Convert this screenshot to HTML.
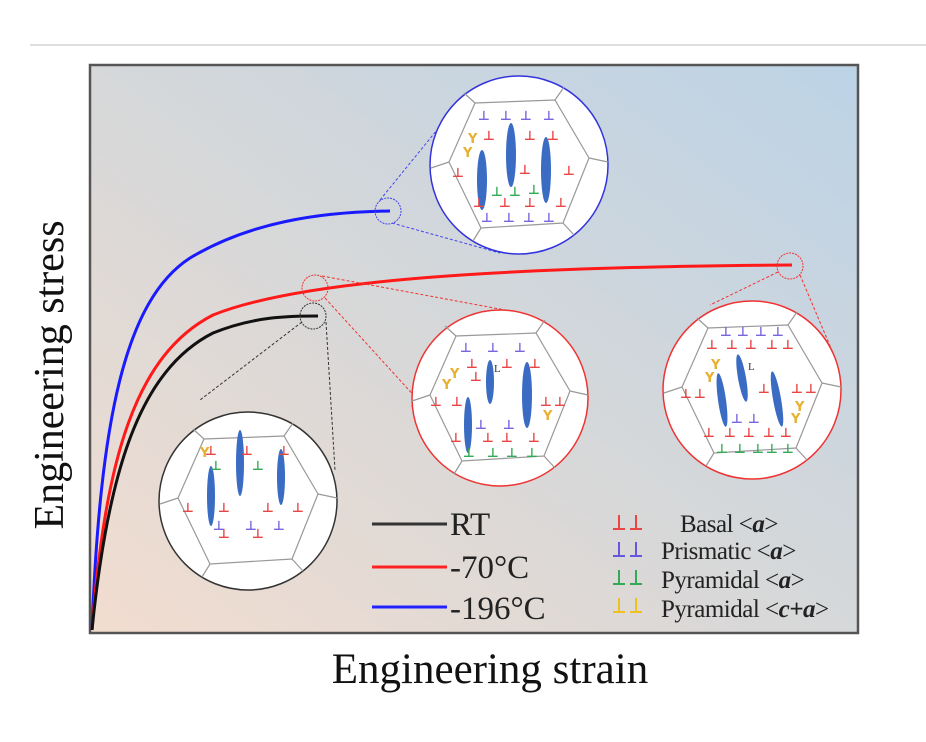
<!DOCTYPE html>
<html><head><meta charset="utf-8"><style>
html,body{margin:0;padding:0;background:#fff;}
svg{display:block;}
.t{font-family:"Liberation Serif",serif;}
.d{font-family:"DejaVu Sans",sans-serif;font-size:13px;font-weight:bold;}
</style></head><body>
<svg width="926" height="742" viewBox="0 0 926 742" xmlns="http://www.w3.org/2000/svg">
<defs>
<linearGradient id="bg" x1="0" y1="1" x2="1" y2="0">
<stop offset="0" stop-color="#f2ddd0"/>
<stop offset="0.45" stop-color="#d8d8d8"/>
<stop offset="1" stop-color="#bcd3e6"/>
</linearGradient>
<path id="perp" d="M-6,7 H6 M0,7 V-7" fill="none" stroke-width="2"/>
</defs>
<line x1="30" y1="45" x2="926" y2="45" stroke="#d4d4d4" stroke-width="1.5"/>
<rect x="90" y="65" width="768" height="568" fill="url(#bg)" stroke="#555" stroke-width="2.5"/>

<!-- curves -->
<path d="M92,630 C100,420 125,300 190,258 C250,222 320,212 390,211" fill="none" stroke="#1a1aff" stroke-width="3"/>
<path d="M92,630 C105,460 135,355 213,315 C300,280 500,267 792,265" fill="none" stroke="#ff1a1a" stroke-width="3"/>
<path d="M92,630 C108,470 140,370 213,333 C255,316 290,316 318,316" fill="none" stroke="#111" stroke-width="3"/>

<!-- small circles -->
<circle cx="388" cy="211" r="13" fill="none" stroke="#4444ee" stroke-width="1" stroke-dasharray="2,1"/>
<circle cx="315" cy="288" r="13" fill="none" stroke="#ee3333" stroke-width="1" stroke-dasharray="2,1"/>
<circle cx="313" cy="316" r="13" fill="none" stroke="#333" stroke-width="1" stroke-dasharray="2,1"/>
<circle cx="790" cy="266" r="13" fill="none" stroke="#ee3333" stroke-width="1" stroke-dasharray="2,1"/>

<!-- connectors -->
<g fill="none" stroke-width="1" stroke-dasharray="3,2">
<line x1="380" y1="200" x2="437" y2="130" stroke="#4444ee"/>
<line x1="392" y1="223" x2="500" y2="253" stroke="#4444ee"/>
<line x1="322" y1="276" x2="505" y2="310" stroke="#ee3333"/>
<line x1="325" y1="298" x2="418" y2="400" stroke="#ee3333"/>
<line x1="302" y1="322" x2="200" y2="400" stroke="#333"/>
<line x1="326" y1="322" x2="335" y2="470" stroke="#333"/>
<line x1="778" y1="272" x2="710" y2="305" stroke="#ee3333"/>
<line x1="800" y1="275" x2="836" y2="360" stroke="#ee3333"/>
</g>

<!-- big circles -->
<g>
<circle cx="519" cy="165" r="89" fill="#fff" stroke="#3333dd" stroke-width="1.5"/>
<circle cx="500" cy="398" r="88" fill="#fff" stroke="#ee3333" stroke-width="1.5"/>
<circle cx="752" cy="390" r="89" fill="#fff" stroke="#ee3333" stroke-width="1.5"/>
<circle cx="248" cy="501" r="89" fill="#fff" stroke="#333" stroke-width="1.5"/>
</g>
<!-- hexagons -->
<g fill="none" stroke="#999" stroke-width="1.2">
<g transform="translate(519,165)"><polygon points="-70,-3 -44,-62 36,-65 70,-7 44,58 -38,63"/><path d="M-70,-3 L-88,3 M-44,-62 L-55,-72 M36,-65 L45,-78 M70,-7 L89,-3 M44,58 L55,70 M-38,63 L-46,76"/></g>
<g transform="translate(500,398)"><polygon points="-70,-3 -44,-62 36,-65 70,-7 44,58 -38,63"/><path d="M-70,-3 L-88,3 M-44,-62 L-55,-72 M36,-65 L45,-78 M70,-7 L88,-3 M44,58 L55,70 M-38,63 L-46,76"/></g>
<g transform="translate(752,390)"><polygon points="-70,-3 -44,-62 36,-65 70,-7 44,58 -38,63"/><path d="M-70,-3 L-88,3 M-44,-62 L-55,-72 M36,-65 L45,-78 M70,-7 L89,-3 M44,58 L55,70 M-38,63 L-46,76"/></g>
<g transform="translate(248,501)"><polygon points="-70,-3 -44,-62 36,-65 70,-7 44,58 -38,63"/><path d="M-70,-3 L-88,3 M-44,-62 L-55,-72 M36,-65 L45,-78 M70,-7 L89,-3 M44,58 L55,70 M-38,63 L-46,76"/></g>
</g>

<!-- twins -->
<g fill="#3a6cc4">
<ellipse cx="482" cy="180" rx="5" ry="30"/><ellipse cx="511" cy="155" rx="5" ry="32"/><ellipse cx="546" cy="170" rx="5" ry="33"/>
<ellipse cx="490" cy="382" rx="4" ry="22"/><ellipse cx="468" cy="425" rx="4" ry="28"/><ellipse cx="527" cy="395" rx="5" ry="33"/>
<ellipse cx="742" cy="378" rx="4" ry="24" transform="rotate(-10 742 378)"/><ellipse cx="722" cy="400" rx="4" ry="27" transform="rotate(-8 722 400)"/><ellipse cx="777" cy="399" rx="4" ry="28" transform="rotate(-10 777 399)"/>
<ellipse cx="240" cy="463" rx="4" ry="33"/><ellipse cx="211" cy="496" rx="4" ry="30"/><ellipse cx="281" cy="477" rx="4" ry="28"/>
</g>

<!-- dislocations -->
<g class="d" fill="#e84545">
<text x="483" y="140">⊥</text><text x="524" y="140">⊥</text><text x="547" y="140">⊥</text><text x="452" y="177">⊥</text><text x="519" y="174">⊥</text><text x="563" y="175">⊥</text><text x="473" y="207">⊥</text><text x="499" y="207">⊥</text><text x="524" y="207">⊥</text><text x="555" y="207">⊥</text>
<text x="466" y="368">⊥</text><text x="501" y="368">⊥</text><text x="529" y="368">⊥</text><text x="470" y="381">⊥</text><text x="430" y="406">⊥</text><text x="451" y="406">⊥</text><text x="540" y="406">⊥</text><text x="554" y="406">⊥</text><text x="450" y="442">⊥</text><text x="482" y="442">⊥</text><text x="501" y="442">⊥</text><text x="528" y="442">⊥</text>
<text x="706" y="349">⊥</text><text x="726" y="349">⊥</text><text x="745" y="349">⊥</text><text x="766" y="349">⊥</text><text x="782" y="349">⊥</text><text x="680" y="398">⊥</text><text x="694" y="398">⊥</text><text x="758" y="393">⊥</text><text x="791" y="393">⊥</text><text x="805" y="393">⊥</text><text x="703" y="437">⊥</text><text x="724" y="437">⊥</text><text x="743" y="437">⊥</text><text x="763" y="437">⊥</text><text x="780" y="437">⊥</text>
<text x="205" y="455">⊥</text><text x="241" y="455">⊥</text><text x="278" y="455">⊥</text><text x="182" y="512">⊥</text><text x="218" y="512">⊥</text><text x="262" y="512">⊥</text><text x="292" y="512">⊥</text><text x="218" y="538">⊥</text><text x="252" y="538">⊥</text>
</g>
<g class="d" fill="#7766dd">
<text x="478" y="120">⊥</text><text x="500" y="120">⊥</text><text x="520" y="120">⊥</text><text x="543" y="120">⊥</text><text x="481" y="222">⊥</text><text x="503" y="222">⊥</text><text x="523" y="222">⊥</text><text x="543" y="222">⊥</text>
<text x="460" y="352">⊥</text><text x="487" y="352">⊥</text><text x="514" y="352">⊥</text><text x="475" y="429">⊥</text><text x="503" y="429">⊥</text>
<text x="720" y="336">⊥</text><text x="737" y="336">⊥</text><text x="755" y="336">⊥</text><text x="772" y="336">⊥</text><text x="731" y="423">⊥</text><text x="748" y="423">⊥</text>
<text x="213" y="530">⊥</text><text x="245" y="530">⊥</text><text x="273" y="530">⊥</text>
</g>
<g class="d" fill="#33aa55">
<text x="491" y="196">⊥</text><text x="509" y="196">⊥</text><text x="528" y="194">⊥</text>
<text x="463" y="457">⊥</text><text x="487" y="457">⊥</text><text x="506" y="457">⊥</text><text x="526" y="457">⊥</text>
<text x="716" y="453">⊥</text><text x="734" y="453">⊥</text><text x="752" y="453">⊥</text><text x="766" y="453">⊥</text><text x="782" y="453">⊥</text>
<text x="210" y="470">⊥</text><text x="252" y="470">⊥</text>
</g>
<g class="d" fill="#e8b030" font-size="11">
<text x="468" y="143">Y</text><text x="463" y="157">Y</text><text x="450" y="378">Y</text><text x="442" y="389">Y</text><text x="543" y="420">Y</text>
<text x="711" y="369">Y</text><text x="705" y="382">Y</text><text x="795" y="411">Y</text><text x="791" y="423">Y</text><text x="200" y="457">Y</text>
</g>
<g class="t" font-size="11" fill="#333"><text x="494" y="372">L</text><text x="748" y="370">L</text></g>

<!-- legend -->
<line x1="372" y1="524" x2="447" y2="524" stroke="#333" stroke-width="3"/>
<line x1="372" y1="567" x2="447" y2="567" stroke="#ff2222" stroke-width="3"/>
<line x1="372" y1="607" x2="447" y2="607" stroke="#2222ff" stroke-width="3"/>
<g class="t" font-size="33" fill="#222">
<text x="450" y="535">RT</text>
<text x="450" y="578">-70°C</text>
<text x="450" y="619">-196°C</text>
</g>
<g>
<use href="#perp" x="619" y="522" stroke="#e84545"/><use href="#perp" x="636" y="522" stroke="#e84545"/>
<use href="#perp" x="619" y="549" stroke="#6655dd"/><use href="#perp" x="636" y="549" stroke="#6655dd"/>
<use href="#perp" x="619" y="577" stroke="#33aa55"/><use href="#perp" x="636" y="577" stroke="#33aa55"/>
<use href="#perp" x="619" y="605" stroke="#f0c020"/><use href="#perp" x="636" y="605" stroke="#f0c020"/>
</g>
<g class="t" font-size="25" fill="#222" letter-spacing="-0.5">
<text x="680" y="532">Basal &lt;<tspan font-style="italic" font-weight="bold">a</tspan>&gt;</text>
<text x="661" y="559">Prismatic &lt;<tspan font-style="italic" font-weight="bold">a</tspan>&gt;</text>
<text x="661" y="588">Pyramidal &lt;<tspan font-style="italic" font-weight="bold">a</tspan>&gt;</text>
<text x="661" y="617">Pyramidal &lt;<tspan font-style="italic" font-weight="bold">c+a</tspan>&gt;</text>
</g>

<!-- axis labels -->
<text class="t" x="490" y="683" font-size="43" text-anchor="middle" fill="#111">Engineering strain</text>
<text class="t" x="0" y="0" font-size="42" text-anchor="middle" fill="#111" transform="translate(63,375) rotate(-90)">Engineering stress</text>
</svg>
</body></html>
